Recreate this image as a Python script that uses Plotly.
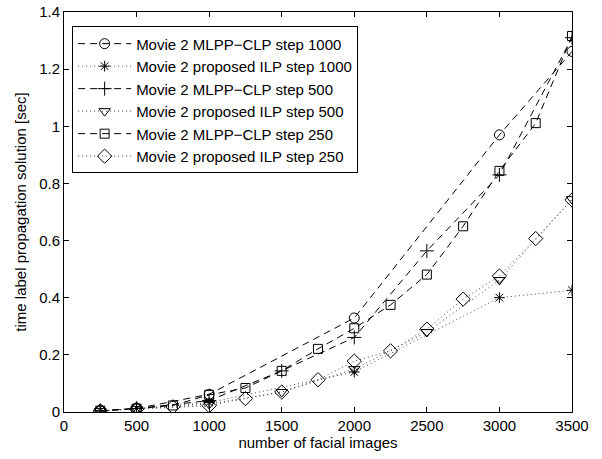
import plotly.graph_objects as go

# Timing of the label propagation step versus dataset size (Movie 2)
x_step1000 = [250, 500, 1000, 2000, 3000, 3500]
x_step500 = [250, 500, 1000, 1500, 2000, 2500, 3000, 3500]
x_step250 = [250, 500, 750, 1000, 1250, 1500, 1750, 2000, 2250, 2500, 2750, 3000, 3250, 3500]

mlpp_step1000 = [0.004, 0.012, 0.062, 0.329, 0.970, 1.262]
ilp_step1000 = [0.004, 0.012, 0.033, 0.140, 0.400, 0.426]
mlpp_step500 = [0.004, 0.012, 0.040, 0.144, 0.261, 0.564, 0.830, 1.310]
ilp_step500 = [0.004, 0.011, 0.028, 0.070, 0.150, 0.280, 0.462, 0.745]
mlpp_step250 = [0.005, 0.012, 0.023, 0.060, 0.084, 0.144, 0.221, 0.293,
                0.375, 0.481, 0.650, 0.844, 1.011, 1.316]
ilp_step250 = [0.004, 0.010, 0.018, 0.022, 0.047, 0.070, 0.113, 0.178,
               0.214, 0.290, 0.395, 0.476, 0.607, 0.742]

series = [
    ("Movie 2 MLPP\u2212CLP step 1000", x_step1000, mlpp_step1000, "circle-open", "dash", 10),
    ("Movie 2 proposed ILP step 1000", x_step1000, ilp_step1000, "asterisk-open", "dot", 9),
    ("Movie 2 MLPP\u2212CLP step 500", x_step500, mlpp_step500, "cross-thin-open", "dash", 10),
    ("Movie 2 proposed ILP step 500", x_step500, ilp_step500, "triangle-down-open", "dot", 10),
    ("Movie 2 MLPP\u2212CLP step 250", x_step250, mlpp_step250, "square-open", "dash", 9),
    ("Movie 2 proposed ILP step 250", x_step250, ilp_step250, "diamond-open", "dot", 11),
]

dash_styles = {"dash": "7px,5px", "dot": "1px,3px"}

fig = go.Figure()
for name, xs, ys, symbol, style, size in series:
    fig.add_trace(go.Scatter(
        x=xs, y=ys, name=name, mode="lines+markers",
        line=dict(color="black" if style == "dash" else "#444444",
                  width=1, dash=dash_styles[style]),
        marker=dict(symbol=symbol, size=size, color="black",
                    line=dict(color="black", width=1)),
    ))

font_family = "Liberation Sans, Arial, sans-serif"
fsize = 15

axis_common = dict(
    showline=True, linecolor="black", linewidth=1, mirror="ticks",
    ticks="inside", ticklen=5, tickcolor="black", tickwidth=1,
    showgrid=False, zeroline=False, automargin=False,
    tickfont=dict(family=font_family, size=fsize, color="black"),
)

fig.update_layout(
    width=602, height=459,
    margin=dict(l=64, r=30, t=12, b=47),
    paper_bgcolor="white", plot_bgcolor="white",
    font=dict(family=font_family, size=fsize, color="black"),
    xaxis=dict(range=[0, 3500], dtick=500, tick0=0,
               title=dict(text="number of facial images", standoff=2,
                          font=dict(family=font_family, size=fsize)),
               **axis_common),
    yaxis=dict(range=[0, 1.4], dtick=0.2, tick0=0,
               title=dict(text="time label propagation solution [sec]", standoff=8,
                          font=dict(family=font_family, size=fsize)),
               **axis_common),
    legend=dict(x=0.016, y=0.964, xanchor="left", yanchor="top",
                bordercolor="black", borderwidth=1, bgcolor="white",
                font=dict(family=font_family, size=fsize),
                itemwidth=53, tracegroupgap=0),
    showlegend=True,
)

fig.write_html("out.html")
